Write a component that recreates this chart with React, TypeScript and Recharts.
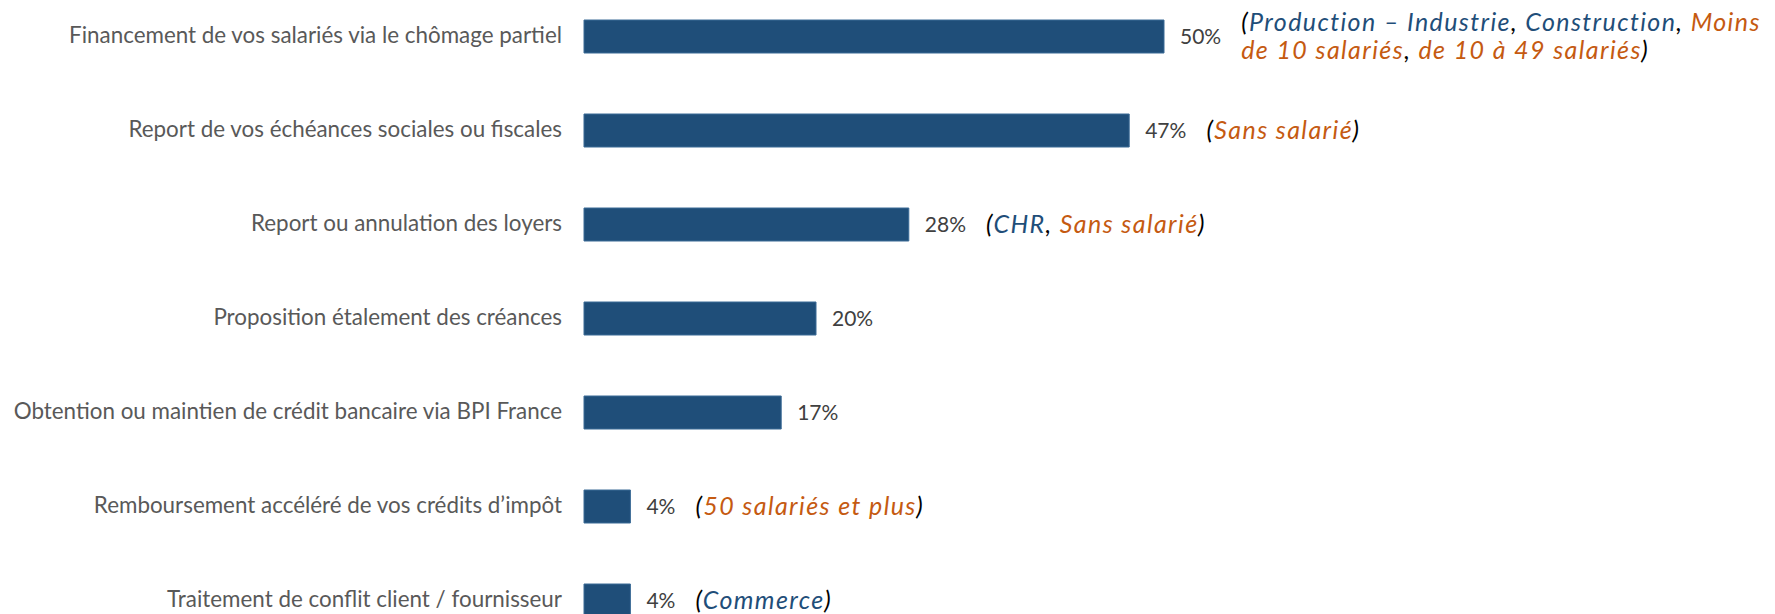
import React from "react";
import { BarChart, Bar, XAxis, YAxis, LabelList } from "recharts";

const categories = [
  "Financement de vos salariés via le chômage partiel",
  "Report de vos échéances sociales ou fiscales",
  "Report ou annulation des loyers",
  "Proposition étalement des créances",
  "Obtention ou maintien de crédit bancaire via BPI France",
  "Remboursement accéléré de vos crédits d’impôt",
  "Traitement de conflit client / fournisseur",
];

const values = [50, 47, 28, 20, 17, 4, 4];

const BLUE = "#1F4E79";
const ORANGE = "#C55A11";
const BLACK = "#000000";

type Seg = [string, string];
// annotation lines per category: each line is a list of [text, colour]
const notes: Seg[][][] = [
  [
    [["(", BLACK], ["Production – Industrie", BLUE], [", ", BLACK], ["Construction", BLUE], [", ", BLACK], ["Moins", ORANGE]],
    [["de 10 salariés", ORANGE], [", ", BLACK], ["de 10 à 49 salariés", ORANGE], [")", BLACK]],
  ],
  [[["(", BLACK], ["Sans salarié", ORANGE], [")", BLACK]]],
  [[["(", BLACK], ["CHR", BLUE], [", ", BLACK], ["Sans salarié", ORANGE], [")", BLACK]]],
  [],
  [],
  [[["(", BLACK], ["50 salariés et plus", ORANGE], [")", BLACK]]],
  [[["(", BLACK], ["Commerce", BLUE], [")", BLACK]]],
];

const data = categories.map((name, i) => ({ name, value: values[i] }));

const FONT = "Lato, 'Open Sans', sans-serif";
const TICK_FS = 22.4;
const VALUE_FS = 21;
const NOTE_FS = 25;
const NOTE_LINE = 28.3;

let ctx: CanvasRenderingContext2D | null = null;
function measure(text: string, font: string): number {
  if (typeof document === "undefined") return text.length * 10;
  if (!ctx) ctx = document.createElement("canvas").getContext("2d");
  if (!ctx) return text.length * 10;
  ctx.font = font;
  return ctx.measureText(text).width;
}

const renderLabel = (props: any) => {
  const { x, y, width, height, index, value } = props;
  const cy = Number(y) + Number(height) / 2;
  const vx = Number(x) + Number(width) + 16;
  const valueText = `${value}%`;
  const vw = measure(valueText, `${VALUE_FS}px Lato`);
  const nx = vx + vw + 20;
  const lines = notes[index] || [];
  const n = lines.length;
  return (
    <g>
      <text
        x={vx}
        y={cy + VALUE_FS * 0.35}
        fontSize={VALUE_FS}
        fontFamily={FONT}
        fill="#404040"
      >
        {valueText}
      </text>
      {n > 0 && (
        <text
          fontSize={NOTE_FS}
          fontFamily={FONT}
          fontStyle="italic"
          letterSpacing={1.4}
        >
          {lines.map((line, li) => (
            <tspan
              key={li}
              x={nx}
              y={cy + (li - (n - 1) / 2) * NOTE_LINE + NOTE_FS * 0.34}
            >
              {line.map((seg, si) => (
                <tspan key={si} fill={seg[1]}>
                  {seg[0]}
                </tspan>
              ))}
            </tspan>
          ))}
        </text>
      )}
    </g>
  );
};

const renderTick = (props: any) => {
  const { x, y, payload } = props;
  return (
    <text
      x={x}
      y={Number(y) + TICK_FS * 0.33}
      textAnchor="end"
      fontSize={TICK_FS}
      fontFamily={FONT}
      fill="#595959"
    >
      {payload.value}
    </text>
  );
};

export default function App() {
  return (
    <div
      style={{
        position: "absolute",
        left: 0,
        top: 0,
        width: 1775,
        height: 614,
        overflow: "hidden",
        background: "#ffffff",
      }}
    >
      <div style={{ marginTop: -11 }}>
        <BarChart
          width={1775}
          height={658}
          data={data}
          layout="vertical"
          margin={{ top: 0, right: 31, bottom: 0, left: 0 }}
        >
          <XAxis type="number" domain={[0, 100]} hide />
          <YAxis
            type="category"
            dataKey="name"
            width={584}
            axisLine={false}
            tickLine={false}
            tickSize={0}
            tickMargin={22}
            interval={0}
            tick={renderTick}
          />
          <Bar
            dataKey="value"
            fill="#1F4E79"
            stroke="#3A6A96"
            strokeWidth={1}
            barSize={33}
            isAnimationActive={false}
          >
            <LabelList dataKey="value" content={renderLabel} />
          </Bar>
        </BarChart>
      </div>
    </div>
  );
}
